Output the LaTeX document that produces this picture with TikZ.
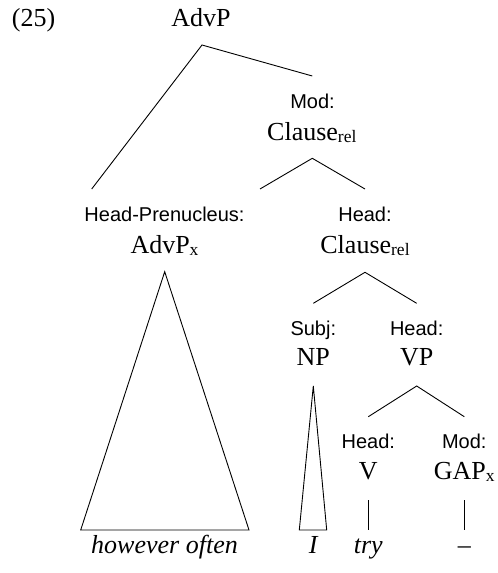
\documentclass[tikz,border=0pt]{standalone}
\usepackage{fontspec}
\setmainfont{Liberation Serif}
\setsansfont{Liberation Sans}
\newcommand\mysub[1]{\raisebox{-2.6pt}{\fontsize{17.5}{17.5}\selectfont #1}}
\tikzset{
  cat/.style={anchor=base,inner sep=0pt,font=\fontsize{26}{30}\selectfont},
  fn/.style={anchor=base,inner sep=0pt,font=\sffamily\fontsize{20}{24}\selectfont},
  word/.style={anchor=base,inner sep=0pt,font=\itshape\fontsize{26}{30}\selectfont},
  branch/.style={line width=0.9pt,line join=miter},
}
\begin{document}
\begin{tikzpicture}[x=1pt,y=-1pt]
\useasboundingbox (0,0) rectangle (498,573);
% texts
\node[cat,anchor=base west] (n25) at (11.7,26.5) {(25)};
\node[cat] (advp) at (201,26.5) {AdvP};
\node[fn] (modlab) at (312.5,108.3) {Mod:};
\node[cat] (modcl) at (311.8,140) {Clause\mysub{rel}};
\node[fn] (hplab) at (164.5,221.7) {Head-Prenucleus:};
\node[cat] (advpx) at (164.5,253.3) {AdvP\mysub{x}};
\node[fn] (headlab) at (365,221.7) {Head:};
\node[cat] (headcl) at (365,253.3) {Clause\mysub{rel}};
\node[fn] (subjlab) at (313.3,335) {Subj:};
\node[cat] (np) at (313.3,365.7) {NP};
\node[fn] (vphead) at (416.7,335) {Head:};
\node[cat] (vp) at (416.7,365.7) {VP};
\node[fn] (vhead) at (368.3,448.3) {Head:};
\node[cat] (v) at (368.3,479.3) {V};
\node[fn] (gapmod) at (464.3,448.3) {Mod:};
\node[cat] (gap) at (464.3,479.3) {GAP\mysub{x}};
\node[word] (w1) at (164.5,553.3) {however often};
\node[word] (w2) at (313.3,553.3) {I};
\node[word] (w3) at (368.3,553.3) {try};
\node[word] (w4) at (464.3,553.3) {\textendash};
% branch points
\coordinate (a1) at (202,45);
\coordinate (a1l) at (91.7,189);
\coordinate (a1r) at (312.3,76);
\coordinate (a2) at (312.3,158.3);
\coordinate (a2l) at (260,189);
\coordinate (a2r) at (365,189);
\coordinate (a3) at (365,272.3);
\coordinate (a3l) at (313.3,303.3);
\coordinate (a3r) at (416.7,303.3);
\coordinate (a4) at (416.7,386);
\coordinate (a4l) at (368.3,416.7);
\coordinate (a4r) at (464.3,416.7);
\coordinate (t1) at (164.7,271.7);
\coordinate (t1l) at (80.7,530);
\coordinate (t1r) at (249,530);
\coordinate (t2) at (313.3,386);
\coordinate (t2l) at (299.3,530);
\coordinate (t2r) at (326.7,530);
\coordinate (vt) at (368.3,500);
\coordinate (vb) at (368.3,530);
\coordinate (gt) at (464.3,500);
\coordinate (gb) at (464.3,530);
% connectors
\draw[branch] (a1l) -- (a1) -- (a1r);
\draw[branch] (a2l) -- (a2) -- (a2r);
\draw[branch] (a3l) -- (a3) -- (a3r);
\draw[branch] (a4l) -- (a4) -- (a4r);
\draw[branch] (t1) -- (t1l) -- (t1r) -- cycle;
\draw[branch] (t2) -- (t2l) -- (t2r) -- cycle;
\draw[branch] (vt) -- (vb);
\draw[branch] (gt) -- (gb);
\end{tikzpicture}
\end{document}
